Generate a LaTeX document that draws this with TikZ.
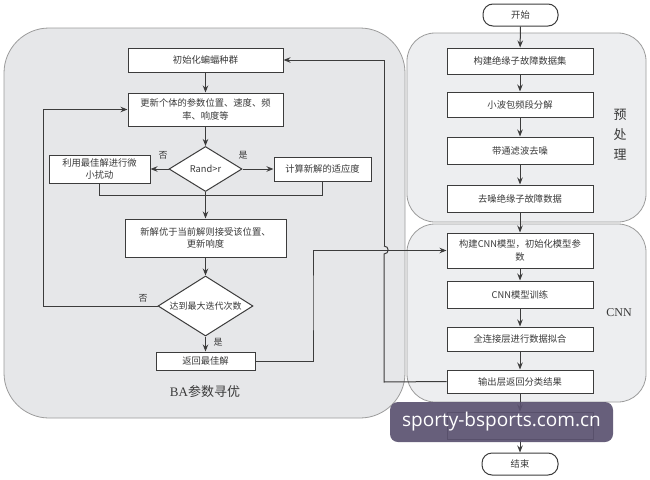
\documentclass[tikz,border=0pt]{standalone}
\usepackage{fontspec}
\usetikzlibrary{arrows.meta,shapes.geometric}
\newfontfamily\cjk{Noto Sans CJK SC}
\newfontfamily\wmfont{Open Sans}
\newfontfamily\lblserif{Liberation Serif}
\definecolor{ln}{HTML}{3C3C3C}
\definecolor{txt}{HTML}{3A3A3A}
\definecolor{panelL}{HTML}{E6E7E9}
\definecolor{panelR}{HTML}{EDEEF0}
\definecolor{pborder}{HTML}{9C9C9C}
\definecolor{wm}{HTML}{5B5270}
\tikzset{
  flowbox/.style={draw=ln, line width=1pt, fill=white, inner sep=1pt, align=center,
    font=\cjk\fontsize{9.3}{12.5}\selectfont, text=txt},
  decide/.style={draw=ln, line width=1pt, fill=white, diamond, aspect=1.6, inner sep=0pt,
    font=\cjk\fontsize{9.3}{12}\selectfont, text=txt},
  term/.style={draw=ln, line width=1pt, fill=white, rounded corners=10pt, inner sep=0pt,
    font=\cjk\fontsize{9.3}{12}\selectfont, text=txt},
  panel/.style={draw=pborder, line width=0.8pt},
  flow/.style={draw=ln, line width=1pt, -{Stealth[length=7pt,width=5.5pt]}},
  plain/.style={draw=ln, line width=1pt},
  yn/.style={font=\cjk\fontsize{9}{10}\selectfont, text=txt, inner sep=0pt},
  biglabel/.style={text=txt, inner sep=0pt, align=center}
}
\begin{document}
\begin{tikzpicture}[x=1pt,y=-1pt]
\useasboundingbox (0,0) rectangle (650,479);
\fill[white] (0,0) rectangle (650,479);
% panels
\draw[panel, fill=panelL, rounded corners=45pt] (4,28) rectangle (405,418);
\draw[panel, fill=panelR, rounded corners=28pt] (407,33) rectangle (646,222);
\draw[panel, fill=panelR, rounded corners=28pt] (407,224) rectangle (646,402);

% left flow
\node[flowbox, minimum width=155pt, minimum height=24pt] (init) at (205.5,60) {初始化蝙蝠种群};
\node[flowbox, minimum width=155pt, minimum height=33pt, text width=150pt] (upd) at (205.5,109.5) {更新个体的参数位置、速度、频\\率、响度等};
\node[decide, minimum width=73pt, minimum height=45pt] (d1) at (205.5,169) {Rand>r};
\node[flowbox, minimum width=101pt, minimum height=28pt, text width=98pt] (lb) at (99.5,169) {利用最佳解进行微\\小扰动};
\node[flowbox, minimum width=97pt, minimum height=24pt] (rb) at (322.5,169) {计算新解的适应度};
\node[flowbox, minimum width=161pt, minimum height=38pt, text width=156pt] (nb) at (205.5,238) {新解优于当前解则接受该位置、\\更新响度};
\node[decide, minimum width=95pt, minimum height=60pt, font=\cjk\fontsize{9}{11}\selectfont] (d2) at (205.5,306) {达到最大迭代次数};
\node[flowbox, minimum width=99pt, minimum height=18pt] (ret) at (205.5,361) {返回最佳解};
\node[biglabel] (ba) at (205,392) {\lblserif\fontsize{13}{14}\selectfont BA\cjk 参数寻优};

\node[yn] (no1) at (163,155) {否};
\node[yn] (yes1) at (243,155) {是};
\node[yn] (no2) at (143,298) {否};
\node[yn] (yes2) at (218,342) {是};

% right flow
\node[term, minimum width=75pt, minimum height=22pt] (start) at (520.5,15) {开始};
\node[flowbox, minimum width=146pt, minimum height=26pt] (b1) at (520,61) {构建绝缘子故障数据集};
\node[flowbox, minimum width=146pt, minimum height=25pt] (b2) at (520,104.5) {小波包频段分解};
\node[flowbox, minimum width=146pt, minimum height=27pt] (b3) at (520,150.5) {带通滤波去噪};
\node[flowbox, minimum width=146pt, minimum height=27pt] (b4) at (520,198.5) {去噪绝缘子故障数据};
\node[flowbox, minimum width=146pt, minimum height=35pt, text width=142pt] (c1) at (520,250.5) {构建CNN模型，初始化模型参\\数};
\node[flowbox, minimum width=146pt, minimum height=27pt] (c2) at (520,294.5) {CNN模型训练};
\node[flowbox, minimum width=146pt, minimum height=24pt] (c3) at (520,339) {全连接层进行数据拟合};
\node[flowbox, minimum width=146pt, minimum height=23pt] (c4) at (520,381.5) {输出层返回分类结果};
\node[flowbox, minimum width=146pt, minimum height=27pt] (c5) at (520,425.5) {};
\node[term, minimum width=76pt, minimum height=22pt] (stop) at (520,464) {结束};
\node[biglabel, font=\cjk\fontsize{13}{20}\selectfont] (pre) at (620,135) {预\\处\\理};
\node[biglabel, font=\lblserif\fontsize{12}{14}\selectfont] (cnn) at (619,313) {CNN};

% coordinates for bends
\coordinate (mergeL) at (99.5,195);
\coordinate (loopL) at (43,306);
\coordinate (jog) at (313,300);
\coordinate (hopB) at (384,254);
\coordinate (hopT) at (384,246);
\coordinate (loopR) at (384,382);

% left connectors
\draw[flow] (init) -- (upd);
\draw[flow] (upd) -- (d1);
\draw[flow] (d1.west) -- (lb.east);
\draw[flow] (d1.east) -- (rb.west);
\draw[plain] (lb.south) |- (mergeL -| rb.south) -- (rb.south);
\draw[flow] (d1.south) -- (nb.north);
\draw[flow] (nb) -- (d2);
\draw[flow] (d2.west) -| (loopL |- upd.west) -- (upd.west);
\draw[flow] (d2.south) -- (ret.north);
\draw[flow] (ret.east) -| (jog) |- (c1.west);

% loop back from output layer to init with hop
\draw[plain] (c4.west) -- (loopR) -- (hopB) .. controls ++(5.5,0) and ++(5.5,0) .. (hopT);
\draw[flow] (hopT) -- (hopT |- init.east) -- (init.east);

% right connectors
\draw[flow] (start) -- (b1);
\draw[flow] (b1) -- (b2);
\draw[flow] (b2) -- (b3);
\draw[flow] (b3) -- (b4);
\draw[flow] (b4) -- (c1);
\draw[flow] (c1) -- (c2);
\draw[flow] (c2) -- (c3);
\draw[flow] (c3) -- (c4);
\draw[flow] (c4) -- (c5);
\draw[flow] (c5) -- (stop);

% watermark overlay
\node[fill=wm, fill opacity=0.92, text opacity=1, rounded corners=8pt, minimum width=223pt, minimum height=40pt, inner sep=0pt, text=white, font=\wmfont\fontsize{19}{20}\selectfont] (wmark) at (501.5,422) {sporty-bsports.com.cn};
\end{tikzpicture}
\end{document}
